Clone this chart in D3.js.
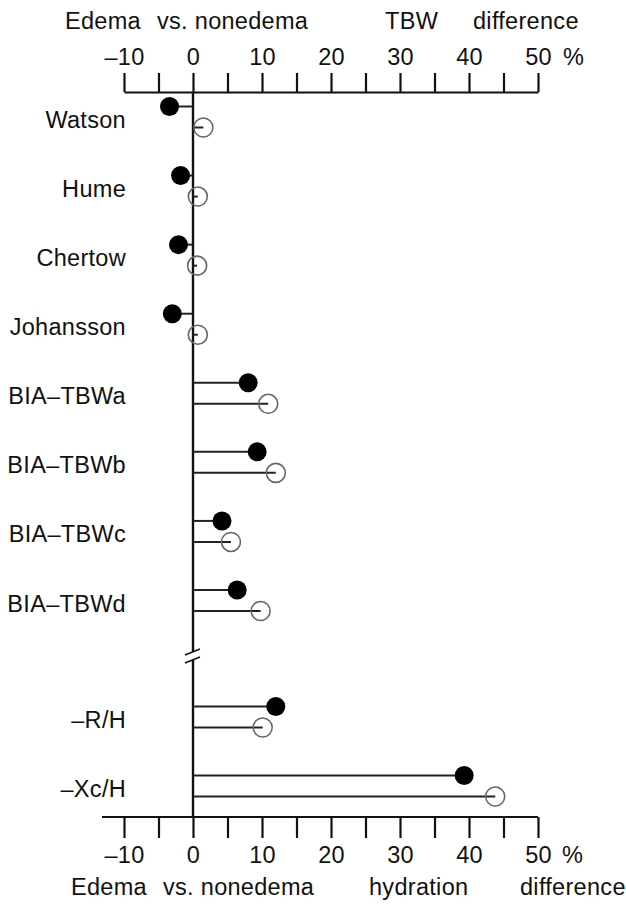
<!DOCTYPE html>
<html>
<head>
<meta charset="utf-8">
<script src="https://cdn.jsdelivr.net/npm/d3@7"></script>
<style>
  body { margin: 0; background: #fff; }
  svg text { font-family: "Liberation Sans", Arial, Helvetica, sans-serif; fill: #111; letter-spacing: 0.3px; }
</style>
</head>
<body>
<div id="chart"></div>
<script>
(function () {
    "use strict";

    const width = 626;
    const height = 904;
    const fontSize = 23.5;

    // Methods above the axis break, then the two indices below it
    const methods = ["Watson", "Hume", "Chertow", "Johansson", "BIA\u2013TBWa", "BIA\u2013TBWb", "BIA\u2013TBWc", "BIA\u2013TBWd"];
    const indices = ["\u2013R/H", "\u2013Xc/H"];

    // filled = edema group, open = nonedema group (% difference)
    const filledValues = [-3.4, -1.8, -2.1, -3.0, 8.0, 9.3, 4.2, 6.4, 12.0, 39.3];
    const openValues = [1.5, 0.7, 0.6, 0.7, 10.9, 12.0, 5.5, 9.8, 10.1, 43.8];

    const tickValues = d3.range(-10, 51, 5);
    const labelledTicks = [-10, 0, 10, 20, 30, 40, 50];

    const topTitle = [["Edema", 65], ["vs. nonedema", 157], ["TBW", 385], ["difference", 473]];
    const bottomTitle = [["Edema", 71], ["vs. nonedema", 163], ["hydration", 369], ["difference", 520]];

    const rows = methods.concat(indices).map((name, i) => ({
        name: name,
        filled: filledValues[i],
        open: openValues[i],
        lower: i >= methods.length
    }));

    const x = d3.scaleLinear().domain([-10, 50]).range([124, 538]);
    const yUpper = d3.scalePoint().domain(methods).range([117, 600.5]);
    const yLower = d3.scalePoint().domain(indices).range([717, 786]);
    const y = (d) => d.lower ? yLower(d.name) : yUpper(d.name);

    const topAxisY = 92;
    const bottomAxisY = 817;
    const pairGap = 10.5;

    const svg = d3.select("#chart")
        .append("svg")
        .attr("width", width)
        .attr("height", height);

    const fmt = (d) => labelledTicks.includes(d) ? (d < 0 ? "\u2013" + Math.abs(d) : String(d)) : "";

    // top axis
    const topAxis = svg.append("g")
        .attr("transform", `translate(0,${topAxisY})`)
        .call(d3.axisTop(x).tickValues(tickValues).tickSize(19).tickSizeOuter(0).tickFormat(fmt));

    // bottom axis
    const bottomAxis = svg.append("g")
        .attr("transform", `translate(0,${bottomAxisY})`)
        .call(d3.axisBottom(x).tickValues(tickValues).tickSize(21).tickSizeOuter(0).tickFormat(fmt));
    bottomAxis.select(".domain").attr("d", `M102,0H${x(50)}`);

    [topAxis, bottomAxis].forEach((g) => {
        g.select(".domain").attr("stroke", "#111").attr("stroke-width", 2.2);
        g.selectAll(".tick line").attr("stroke", "#111").attr("stroke-width", 2.2);
        g.selectAll(".tick text")
            .attr("font-size", fontSize)
            .attr("fill", "#111")
            .attr("font-family", "Liberation Sans, Arial, sans-serif");
    });
    topAxis.selectAll(".tick text").attr("y", -27).attr("dy", 0);
    bottomAxis.selectAll(".tick text").attr("y", 46).attr("dy", 0);

    svg.append("text").attr("x", 563).attr("y", topAxisY - 27).attr("font-size", fontSize).text("%");
    svg.append("text").attr("x", 562).attr("y", bottomAxisY + 46).attr("font-size", fontSize).text("%");

    svg.append("g").selectAll("text")
        .data(topTitle)
        .join("text")
        .attr("x", (d) => d[1])
        .attr("y", 29)
        .attr("font-size", fontSize)
        .text((d) => d[0]);

    svg.append("g").selectAll("text")
        .data(bottomTitle)
        .join("text")
        .attr("x", (d) => d[1])
        .attr("y", 895)
        .attr("font-size", fontSize)
        .text((d) => d[0]);

    // vertical zero line with a break between the two groups
    const x0 = x(0);
    const breakTop = 652;
    const breakBottom = 660;
    svg.append("line")
        .attr("x1", x0).attr("x2", x0)
        .attr("y1", topAxisY).attr("y2", breakTop)
        .attr("stroke", "#111").attr("stroke-width", 2.4);
    svg.append("line")
        .attr("x1", x0).attr("x2", x0)
        .attr("y1", breakBottom).attr("y2", bottomAxisY)
        .attr("stroke", "#111").attr("stroke-width", 2.4);
    [breakTop, breakBottom].forEach((by) => {
        svg.append("line")
            .attr("x1", x0 - 8).attr("y1", by + 3)
            .attr("x2", x0 + 7).attr("y2", by - 3)
            .attr("stroke", "#111").attr("stroke-width", 1.8);
    });

    // category labels
    svg.append("g").selectAll("text")
        .data(rows)
        .join("text")
        .attr("x", 126)
        .attr("y", (d) => y(d) + 11)
        .attr("text-anchor", "end")
        .attr("font-size", fontSize)
        .text((d) => d.name);

    // stems
    const stems = svg.append("g").attr("stroke", "#222").attr("stroke-width", 2);
    stems.selectAll("line.filled")
        .data(rows)
        .join("line")
        .attr("class", "filled")
        .attr("x1", x0).attr("x2", (d) => x(d.filled))
        .attr("y1", (d) => y(d) - pairGap).attr("y2", (d) => y(d) - pairGap);
    stems.selectAll("line.open")
        .data(rows)
        .join("line")
        .attr("class", "open")
        .attr("x1", x0).attr("x2", (d) => x(d.open))
        .attr("y1", (d) => y(d) + pairGap).attr("y2", (d) => y(d) + pairGap);

    // markers
    svg.append("g").selectAll("circle")
        .data(rows)
        .join("circle")
        .attr("cx", (d) => x(d.filled))
        .attr("cy", (d) => y(d) - pairGap)
        .attr("r", 9.5)
        .attr("fill", "#000");

    svg.append("g").selectAll("circle")
        .data(rows)
        .join("circle")
        .attr("cx", (d) => x(d.open))
        .attr("cy", (d) => y(d) + pairGap)
        .attr("r", 9.5)
        .attr("fill", "none")
        .attr("stroke", "#666")
        .attr("stroke-width", 1.6);
}());
</script>
</body>
</html>
